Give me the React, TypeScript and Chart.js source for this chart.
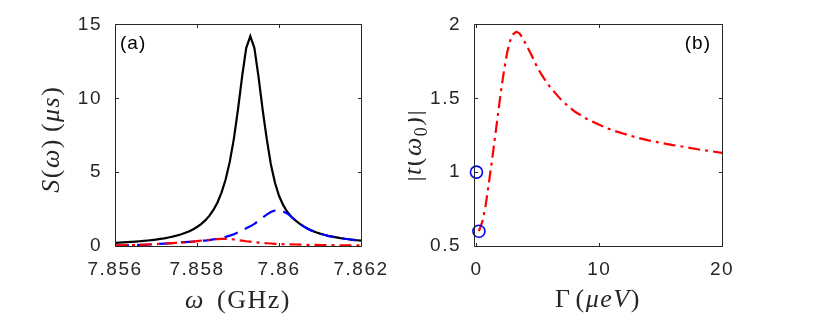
import React, { useEffect, useRef } from "react";
import { Chart, registerables } from "chart.js";

Chart.register(...registerables);

// ---------- Panel (a) data ----------
const omegaGHz = [
  7.856, 7.8561, 7.8562, 7.8563, 7.8564, 7.8565, 7.8566, 7.8567, 7.8568, 7.8569,
  7.857, 7.8571, 7.8572, 7.8573, 7.8574, 7.8575, 7.8576, 7.8577, 7.8578, 7.8579,
  7.858, 7.8581, 7.8582, 7.8583, 7.8584, 7.8585, 7.8586, 7.8587, 7.8588, 7.8589,
  7.859, 7.8591, 7.8592, 7.8593, 7.8594, 7.8595, 7.8596, 7.8597, 7.8598, 7.8599,
  7.86, 7.8601, 7.8602, 7.8603, 7.8604, 7.8605, 7.8606, 7.8607, 7.8608, 7.8609,
  7.861, 7.8611, 7.8612, 7.8613, 7.8614, 7.8615, 7.8616, 7.8617, 7.8618, 7.8619,
  7.862,
];
const sTotal = [
  0.216, 0.229, 0.244, 0.26, 0.278, 0.298, 0.32, 0.345, 0.372, 0.403,
  0.437, 0.477, 0.521, 0.573, 0.632, 0.7, 0.781, 0.875, 0.987, 1.12,
  1.285, 1.48, 1.73, 2.04, 2.44, 2.95, 3.63, 4.52, 5.71, 7.27,
  9.25, 11.47, 13.4, 14.2, 13.4, 11.47, 9.25, 7.27, 5.55, 4.3,
  3.4, 2.78, 2.32, 1.98, 1.73, 1.52, 1.33, 1.17, 1.04, 0.93,
  0.84, 0.76, 0.69, 0.63, 0.58, 0.53, 0.49, 0.455, 0.42, 0.39,
  0.365,
];
const sBlue = [
  0.03, 0.035, 0.04, 0.045, 0.05, 0.06, 0.07, 0.08, 0.095, 0.11,
  0.13, 0.145, 0.16, 0.18, 0.2, 0.22, 0.24, 0.26, 0.28, 0.3,
  0.32, 0.35, 0.37, 0.4, 0.45, 0.5, 0.56, 0.62, 0.7, 0.8,
  0.92, 1.05, 1.2, 1.33, 1.5, 1.7, 1.93, 2.12, 2.3, 2.4,
  2.42, 2.34, 2.2, 1.98, 1.73, 1.52, 1.33, 1.17, 1.04, 0.93,
  0.84, 0.76, 0.69, 0.63, 0.58, 0.53, 0.49, 0.455, 0.42, 0.39,
  0.365,
];
const sRed = [
  0.04, 0.045, 0.05, 0.055, 0.06, 0.07, 0.08, 0.09, 0.1, 0.115,
  0.13, 0.145, 0.16, 0.175, 0.19, 0.21, 0.23, 0.25, 0.28, 0.3,
  0.33, 0.36, 0.39, 0.42, 0.445, 0.465, 0.478, 0.48, 0.47, 0.44,
  0.4, 0.36, 0.32, 0.29, 0.26, 0.23, 0.205, 0.185, 0.17, 0.15,
  0.135, 0.125, 0.115, 0.105, 0.1, 0.09, 0.085, 0.08, 0.075, 0.07,
  0.065, 0.062, 0.06, 0.057, 0.054, 0.05, 0.047, 0.044, 0.041, 0.038,
  0.035,
];
const xTicksA = [7.856, 7.858, 7.86, 7.862];
const xTickLabelsA = ["7.856", "7.858", "7.86", "7.862"];
const yTicksA = [0, 5, 10, 15];
const yTickLabelsA = ["0", "5", "10", "15"];

// ---------- Panel (b) data ----------
const gammaUeV = [
  0.2, 0.5, 0.75, 1, 1.25, 1.5, 1.75, 2, 2.25, 2.5, 2.75, 3, 3.25, 3.5, 3.75, 4,
  4.5, 5, 5.5, 6, 7, 8, 9, 10, 11, 12, 13, 14, 15, 16, 17, 18, 19, 20,
];
const tAbs = [
  0.6, 0.67, 0.775, 0.92, 1.07, 1.23, 1.39, 1.55, 1.69, 1.81, 1.89, 1.935, 1.95, 1.94, 1.91, 1.87,
  1.79, 1.7, 1.635, 1.575, 1.48, 1.41, 1.36, 1.32, 1.285, 1.26, 1.235, 1.215, 1.198, 1.183, 1.17, 1.155, 1.143, 1.13,
];
const circleGamma = [0, 0.2];
const circleT = [1, 0.6];
const xTicksB = [0, 10, 20];
const xTickLabelsB = ["0", "10", "20"];
const yTicksB = [0.5, 1, 1.5, 2];
const yTickLabelsB = ["0.5", "1", "1.5", "2"];

const AXIS = "#262626";
const TICK_FONT = { family: "Liberation Sans, Arial, sans-serif", size: 19 };
const SERIF = '"Liberation Serif", "Times New Roman", serif';
const SPACING = "1.5px";

type Seg = { t: string; it?: boolean; sub?: boolean; gap?: number };

function drawRich(ctx: CanvasRenderingContext2D, segs: Seg[], cx: number, cy: number, size: number, rot: boolean) {
  ctx.save();
  (ctx as any).letterSpacing = SPACING;
  ctx.translate(cx, cy);
  if (rot) ctx.rotate(-Math.PI / 2);
  const fontFor = (s: Seg) => `${s.it ? "italic " : ""}${s.sub ? Math.round(size * 0.7) : size}px ${SERIF}`;
  let total = 0;
  const widths = segs.map((s) => {
    ctx.font = fontFor(s);
    const w = ctx.measureText(s.t).width + (s.gap || 0);
    total += w;
    return w;
  });
  let x = -total / 2;
  ctx.textBaseline = "alphabetic";
  ctx.textAlign = "left";
  ctx.fillStyle = AXIS;
  const base = size * 0.3;
  segs.forEach((s, i) => {
    ctx.font = fontFor(s);
    ctx.fillText(s.t, x, s.sub ? base + size * 0.22 : base);
    x += widths[i];
  });
  ctx.restore();
}

type PanelOpts = {
  id: string;
  xTitle: Seg[];
  yTitle: Seg[];
  yTitleOffset: number;
  yTitleShift: number;
  xTitleY: number;
  tag: string;
  tagLeft: boolean;
};

function framePlugin(o: PanelOpts) {
  return {
    id: "frame_" + o.id,
    beforeDraw(chart: any) {
      (chart.ctx as any).letterSpacing = SPACING;
    },
    afterDraw(chart: any) {
      const ctx: CanvasRenderingContext2D = chart.ctx;
      const { left, right, top, bottom } = chart.chartArea;
      const L = Math.round(left) + 0.5;
      const R = Math.round(right) + 0.5;
      const T = Math.round(top) + 0.5;
      const B = Math.round(bottom) + 0.5;
      ctx.save();
      ctx.setLineDash([]);
      ctx.strokeStyle = AXIS;
      ctx.lineWidth = 1;
      ctx.beginPath();
      ctx.rect(L, T, R - L, B - T);
      const tl = 3.5;
      const xs = chart.scales.x;
      const ys = chart.scales.y;
      xs.ticks.forEach((t: any) => {
        const p = Math.round(xs.getPixelForValue(t.value)) + 0.5;
        ctx.moveTo(p, B);
        ctx.lineTo(p, B - tl);
        ctx.moveTo(p, T);
        ctx.lineTo(p, T + tl);
      });
      ys.ticks.forEach((t: any) => {
        const p = Math.round(ys.getPixelForValue(t.value)) + 0.5;
        ctx.moveTo(L, p);
        ctx.lineTo(L + tl, p);
        ctx.moveTo(R, p);
        ctx.lineTo(R - tl, p);
      });
      ctx.stroke();
      // panel tag
      (ctx as any).letterSpacing = "1px";
      ctx.fillStyle = "#000";
      ctx.font = `19px Liberation Sans, Arial, sans-serif`;
      ctx.textBaseline = "middle";
      if (o.tagLeft) {
        ctx.textAlign = "left";
        ctx.fillText(o.tag, left + 5, top + 19);
      } else {
        ctx.textAlign = "right";
        ctx.fillText(o.tag, right - 11, top + 19);
      }
      ctx.restore();
      drawRich(ctx, o.xTitle, (left + right) / 2, o.xTitleY, 26, false);
      drawRich(ctx, o.yTitle, left - o.yTitleOffset, (top + bottom) / 2 + o.yTitleShift, 26, true);
    },
  };
}

function axisCfg(min: number, max: number, ticks: number[], labels: string[], isX: boolean, fitSize: number) {
  return {
    type: "linear",
    min,
    max,
    afterBuildTicks: (s: any) => {
      s.ticks = ticks.map((v) => ({ value: v }));
    },
    afterFit: (s: any) => {
      if (isX) s.height = fitSize;
      else s.width = fitSize;
    },
    grid: { display: false, drawTicks: false },
    border: { display: false },
    ticks: {
      padding: isX ? 12 : 13,
      color: AXIS,
      font: TICK_FONT,
      maxRotation: 0,
      autoSkip: false,
      callback: (_v: any, i: number) => labels[i],
    },
  };
}

export default function App() {
  const refA = useRef<HTMLCanvasElement>(null);
  const refB = useRef<HTMLCanvasElement>(null);

  useEffect(() => {
    const optsA: PanelOpts = {
      id: "a",
      xTitle: [{ t: "ω", it: true, gap: 12 }, { t: "(GHz)" }],
      yTitle: [
        { t: "S", it: true },
        { t: "(" },
        { t: "ω", it: true },
        { t: ")", gap: 6 },
        { t: "(" },
        { t: "μs", it: true },
        { t: ")" },
      ],
      yTitleOffset: 64,
      yTitleShift: 4,
      xTitleY: 300,
      tag: "(a)",
      tagLeft: true,
    };
    const optsB: PanelOpts = {
      id: "b",
      xTitle: [{ t: "Γ", gap: 4 }, { t: "(" }, { t: "μeV", it: true }, { t: ")" }],
      yTitle: [
        { t: "|" },
        { t: "t", it: true },
        { t: "(" },
        { t: "ω", it: true },
        { t: "0", sub: true },
        { t: ")" },
        { t: "|" },
      ],
      yTitleOffset: 61,
      yTitleShift: 10,
      xTitleY: 299,
      tag: "(b)",
      tagLeft: false,
    };

    const redDash = [12, 5, 3, 5];

    const chartA = new Chart(refA.current!, {
      type: "scatter",
      data: {
        datasets: [
          {
            label: "red",
            data: omegaGHz.map((x, i) => ({ x, y: sRed[i] })),
            showLine: true,
            borderColor: "#ff0000",
            borderWidth: 2.2,
            borderDash: redDash,
            pointRadius: 0,
            tension: 0,
          },
          {
            label: "blue",
            data: omegaGHz.map((x, i) => ({ x, y: sBlue[i] })),
            showLine: true,
            borderColor: "#0000ff",
            borderWidth: 2.2,
            borderDash: [14, 8],
            pointRadius: 0,
            tension: 0,
          },
          {
            label: "black",
            data: omegaGHz.map((x, i) => ({ x, y: sTotal[i] })),
            showLine: true,
            borderColor: "#000000",
            borderWidth: 2.2,
            pointRadius: 0,
            tension: 0,
          },
        ],
      },
      options: {
        animation: false,
        responsive: false,
        devicePixelRatio: 1,
        layout: { padding: { left: 0, right: 47, top: 24, bottom: 0 } },
        plugins: { legend: { display: false }, tooltip: { enabled: false } },
        scales: {
          x: axisCfg(7.856, 7.862, xTicksA, xTickLabelsA, true, 70),
          y: axisCfg(0, 15, yTicksA, yTickLabelsA, false, 115),
        },
      } as any,
      plugins: [framePlugin(optsA)],
    } as any);

    const chartB = new Chart(refB.current!, {
      type: "scatter",
      data: {
        datasets: [
          {
            label: "circles",
            data: circleGamma.map((x, i) => ({ x, y: circleT[i] })),
            showLine: false,
            pointStyle: "circle",
            pointRadius: 6,
            pointBorderWidth: 1.6,
            pointBorderColor: "#0000ff",
            pointBackgroundColor: "rgba(0,0,0,0)",
            borderColor: "#0000ff",
            backgroundColor: "rgba(0,0,0,0)",
            clip: false,
          },
          {
            label: "t",
            data: gammaUeV.map((x, i) => ({ x, y: tAbs[i] })),
            showLine: true,
            borderColor: "#ff0000",
            borderWidth: 2.2,
            borderDash: redDash,
            pointRadius: 0,
            tension: 0,
          },
        ],
      },
      options: {
        animation: false,
        responsive: false,
        devicePixelRatio: 1,
        layout: { padding: { left: 0, right: 95, top: 24, bottom: 0 } },
        plugins: { legend: { display: false }, tooltip: { enabled: false } },
        scales: {
          x: axisCfg(-0.2, 20, xTicksB, xTickLabelsB, true, 70),
          y: axisCfg(0.5, 2, yTicksB, yTickLabelsB, false, 66),
        },
      } as any,
      plugins: [framePlugin(optsB)],
    } as any);

    return () => {
      chartA.destroy();
      chartB.destroy();
    };
  }, []);

  return (
    <div style={{ position: "fixed", left: 0, top: 0, width: 817, height: 316, background: "#fff" }}>
      <canvas
        ref={refA}
        width={408}
        height={316}
        style={{ position: "absolute", left: 0, top: 0, width: 408, height: 316 }}
      />
      <canvas
        ref={refB}
        width={409}
        height={316}
        style={{ position: "absolute", left: 408, top: 0, width: 409, height: 316 }}
      />
    </div>
  );
}
